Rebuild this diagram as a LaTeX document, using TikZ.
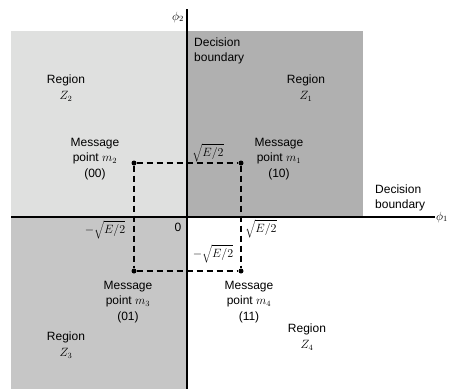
\documentclass[tikz,border=0pt]{standalone}
\usepackage{fontspec}
\setmainfont{Liberation Sans}
\usepackage{tikz}
\usetikzlibrary{calc,backgrounds}
\definecolor{zonelight}{HTML}{DFE0DF}
\definecolor{zonedark}{HTML}{B0B0B0}
\definecolor{zonemid}{HTML}{C6C6C6}
\newcommand{\axiswidth}{1.3pt}
\newcommand{\dotsize}{5pt}
\newcommand{\halfE}{\sqrt{E/2}}

\begin{document}
\begin{tikzpicture}[x=1pt,y=-1pt,
  every node/.style={font=\fontsize{12}{15.5}\selectfont},
  lbl/.style={align=center,inner sep=0pt},
  dashline/.style={dash pattern=on 6pt off 4pt,line width=1.2pt}]
\useasboundingbox (0,0) rectangle (451,389);
%regions
\fill[zonelight] (11,31) rectangle (187,217);
\fill[zonedark] (187,31) rectangle (363,217);
\fill[zonemid] (11,217) rectangle (187,389);
%axes
\coordinate (ytop) at (187,9);
\coordinate (ybot) at (187,389);
\coordinate (xleft) at (11,217);
\coordinate (xright) at (435,217);
\draw[line width=\axiswidth] (ytop) -- (ybot);
\draw[line width=\axiswidth] (xleft) -- (xright);
\node[anchor=west,inner sep=1pt] (phi1) at (xright) {$\phi_1$};
\node[anchor=east,inner sep=1pt] (phi2) at (185,17) {$\phi_2$};
%message points
\node[fill] (m1) at (241,163) [circle,inner sep=0pt,minimum size=\dotsize] {};
\node[fill] (m2) at (134,163) [circle,inner sep=0pt,minimum size=\dotsize] {};
\node[fill] (m3) at (134,271) [circle,inner sep=0pt,minimum size=\dotsize] {};
\node[fill] (m4) at (241,271) [circle,inner sep=0pt,minimum size=\dotsize] {};
\draw[dashline] (m2) -- (m1);
\draw[dashline] (m3) -- (m4);
\draw[dashline] (m2) -- (m3);
\draw[dashline] (m1) -- (m4);
%labels
\node[lbl] (z2) at (66,88) {Region\\$Z_2$};
\node[lbl] (z1) at (306,88) {Region\\$Z_1$};
\node[lbl] (z3) at (66,345) {Region\\$Z_3$};
\node[lbl] (z4) at (307,337) {Region\\$Z_4$};
\node[lbl,align=left,anchor=west] (dbtop) at (194,51) {Decision\\boundary};
\node[lbl,align=left,anchor=west] (dbright) at (375,198) {Decision\\boundary};
\node[lbl] (l2) at (95,159) {Message\\point $m_2$\\(00)};
\node[lbl] (l1) at (279,159) {Message\\point $m_1$\\(10)};
\node[lbl] (l3) at (128,302) {Message\\point $m_3$\\(01)};
\node[lbl] (l4) at (249,302) {Message\\point $m_4$\\(11)};
\node[lbl] (origin) at (178,227) {0};
\node[lbl] (ypos) at (208,153) {$\halfE$};
\node[lbl] (xpos) at (261,229) {$\halfE$};
\node[lbl] (xneg) at (105,230) {$-\halfE$};
\node[lbl] (yneg) at (213,254) {$-\halfE$};
\end{tikzpicture}
\end{document}
